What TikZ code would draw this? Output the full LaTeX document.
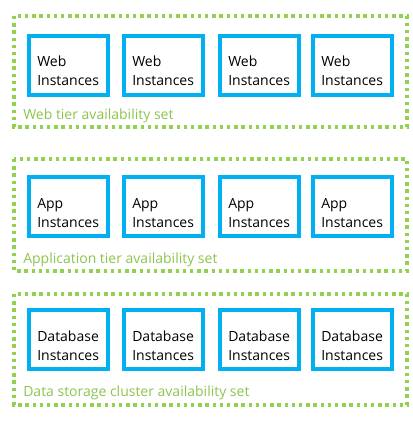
\documentclass[tikz,border=0pt]{standalone}
\usepackage{fontspec}
\setmainfont{Open Sans}
\usetikzlibrary{calc}
\definecolor{tiergreen}{HTML}{92D050}
\definecolor{tiertext}{HTML}{8CC44E}
\definecolor{instblue}{HTML}{00B0F0}
\tikzset{
  px/.style={x=0.75pt,y=-0.75pt},
  groupbox/.style={draw=tiergreen,line width=2.6pt,dash pattern=on 2.6pt off 2.8pt},
  instbox/.style={draw=instblue,line width=3pt,minimum width=59.25pt,minimum height=44.25pt,anchor=north west,inner sep=0pt},
  insttext/.style={anchor=base west,inner sep=0pt,align=left,font=\fontsize{10.5}{14.25}\selectfont,text=black},
  grouplabel/.style={anchor=base west,inner sep=0pt,font=\fontsize{10.5}{13}\selectfont,text=tiertext}
}
\begin{document}
\begin{tikzpicture}[px]
\useasboundingbox (0,0) rectangle (412,431);
% group frames
\draw[groupbox] (14,16) rectangle (407,127);
\draw[groupbox] (14,159) rectangle (407,271);
\draw[groupbox] (14,294) rectangle (407,405);
% instances
\foreach \g/\top/\word in {w/34/Web, a/175/App, d/308/Database}{
  \foreach \i/\left in {1/27, 2/122, 3/218, 4/311}{
    \node[instbox] (\g\i) at (\left,\top) {};
    \node[insttext] (\g\i t) at ($(\g\i.north west)+(10,52)$) {\word\\Instances};
  }
}
% labels
\node[grouplabel] (lw) at (23,119) {Web tier availability set};
\node[grouplabel] (la) at (23,263) {Application tier availability set};
\node[grouplabel] (ld) at (23,396) {Data storage cluster availability set};
\end{tikzpicture}
\end{document}
